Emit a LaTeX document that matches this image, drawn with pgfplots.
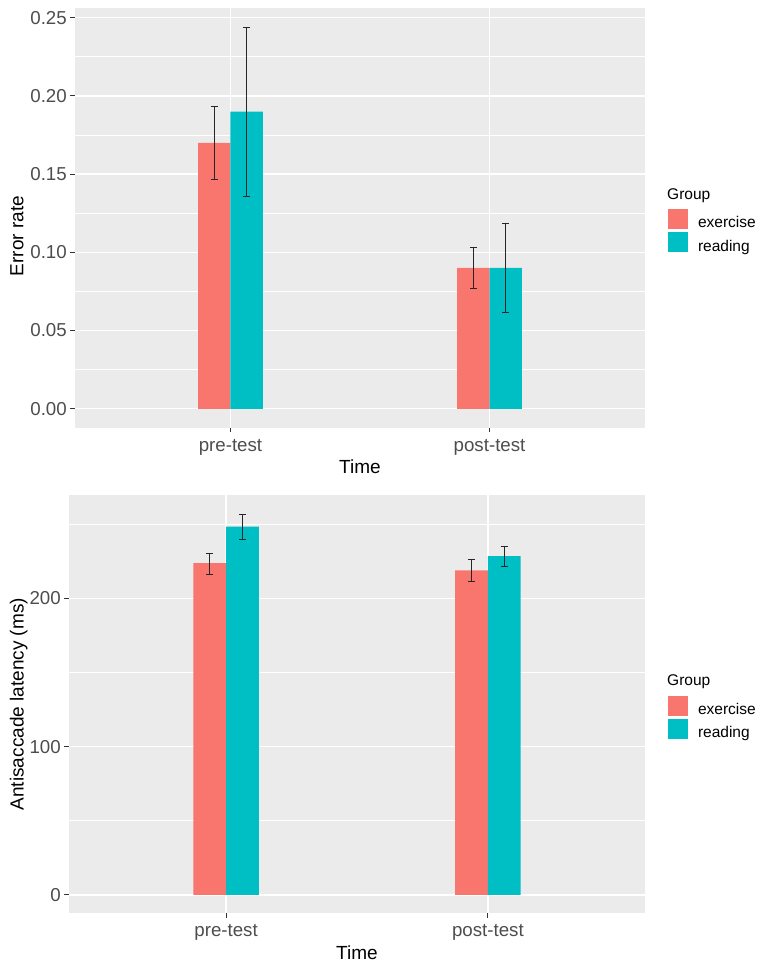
\documentclass[border=0pt]{standalone}
\usepackage{fontspec}
\setmainfont{Liberation Sans}
\usepackage{pgfplots}
\pgfplotsset{compat=1.18}
\definecolor{ggred}{HTML}{F8766D}
\definecolor{ggteal}{HTML}{00BFC4}
\definecolor{ggbg}{HTML}{EBEBEB}
\definecolor{ggtick}{HTML}{4D4D4D}
\definecolor{ggtickmark}{HTML}{333333}
\newcommand{\tickfont}{\fontsize{18.7bp}{22bp}\selectfont}
\newcommand{\titlefont}{\fontsize{19bp}{23bp}\selectfont}
\newcommand{\legfont}{\fontsize{15.5bp}{18bp}\selectfont}
\pgfplotsset{
  ggstyle/.style={
    scale only axis,
    axis background/.style={fill=ggbg},
    axis line style={draw=none},
    xmin=0.4, xmax=2.6,
    xtick={1,2}, xticklabels={pre-test,post-test},
    xmajorgrids, ymajorgrids, yminorgrids,
    major grid style={white, line width=1.4bp},
    minor grid style={white, line width=0.7bp},
    tick align=outside,
    major tick length=4.5bp,
    minor tick length=0pt,
    tick style={ggtickmark, line width=0.9bp},
    tick pos=left,
    xticklabel style={font=\tickfont, text=ggtick, inner sep=0pt, anchor=base, yshift=-19bp},
    yticklabel style={font=\tickfont, text=ggtick, inner sep=0pt, anchor=east, xshift=-3.5bp},
    xlabel style={font=\titlefont, inner sep=0pt, anchor=base},
    ylabel style={font=\titlefont, inner sep=0pt, anchor=base},
    legend style={anchor=north west, draw=none, fill=none, inner sep=0pt, outer sep=0pt,
      row sep=3bp, column sep=10bp, font=\legfont, nodes={inner sep=0pt}},
    legend cell align=left,
  },
  ggbar/.style={ybar, bar width=0.125, bar shift=0, draw=none,
    legend image code/.code={\fill[##1, draw=none] (0bp,-6bp) rectangle (20bp,14bp);}},
  ggerr/.style={draw=none, mark=none, forget plot,
    error bars/y dir=both, error bars/y explicit,
    error bars/error mark=-,
    error bars/error bar style={draw=black!85, line width=1.1bp},
    error bars/error mark options={rotate=90, draw=black!85, line width=1.1bp, mark size=3.5bp}},
}
\begin{document}
\begin{tikzpicture}
\path[use as bounding box] (0,0) rectangle (765bp,968bp);
% ---------------- top panel ----------------
\begin{axis}[ggstyle,
  at={(75bp,540bp)}, anchor=south west, width=570bp, height=420bp,
  ymin=-0.0123, ymax=0.2562,
  ytick={0,0.05,0.10,0.15,0.20,0.25},
  yticklabels={0.00,0.05,0.10,0.15,0.20,0.25},
  minor ytick={0.025,0.075,0.125,0.175,0.225},
  xlabel={Time}, ylabel={Error rate},
  xlabel style={at={(axis description cs:0.5,-0.1079)}},
  ylabel style={at={(axis description cs:-0.0904,0.4571)}},
  legend style={at={(axis description cs:1.0404,0.5214)}},
]
\addplot[ggbar, fill=ggred] coordinates {(0.9375,0.170) (1.9375,0.090)};
\addlegendentry{exercise}
\addplot[ggbar, fill=ggteal] coordinates {(1.0625,0.190) (2.0625,0.090)};
\addlegendentry{reading}
\addplot[ggerr] coordinates {
  (0.9375,0.170) += (0,0.0230) -= (0,0.0234)
  (1.9375,0.090) += (0,0.0132) -= (0,0.0133)
};
\addplot[ggerr] coordinates {
  (1.0625,0.190) += (0,0.0536) -= (0,0.0545)
  (2.0625,0.090) += (0,0.0284) -= (0,0.0287)
};
\end{axis}
\node[anchor=base west, font=\legfont, inner sep=0pt] at (667bp,768bp) {Group};
% ---------------- bottom panel ----------------
\begin{axis}[ggstyle,
  at={(69bp,54.7bp)}, anchor=south west, width=576bp, height=418.3bp,
  ymin=-12.4, ymax=269.6,
  ytick={0,100,200},
  yticklabels={0,100,200},
  minor ytick={50,150,250},
  xlabel={Time}, ylabel={Antisaccade latency (ms)},
  xlabel style={at={(axis description cs:0.5,-0.1116)}},
  ylabel style={at={(axis description cs:-0.0788,0.5)}},
  legend style={at={(axis description cs:1.040,0.5202)}},
]
\addplot[ggbar, fill=ggred] coordinates {(0.9375,223.7) (1.9375,218.7)};
\addlegendentry{exercise}
\addplot[ggbar, fill=ggteal] coordinates {(1.0625,248.3) (2.0625,228.4)};
\addlegendentry{reading}
\addplot[ggerr] coordinates {
  (0.9375,223.7) += (0,6.2) -= (0,7.5)
  (1.9375,218.7) += (0,7.7) -= (0,7.6)
};
\addplot[ggerr] coordinates {
  (1.0625,248.3) += (0,8.4) -= (0,8.5)
  (2.0625,228.4) += (0,6.5) -= (0,7.2)
};
\end{axis}
\node[anchor=base west, font=\legfont, inner sep=0pt] at (667bp,282bp) {Group};
\end{tikzpicture}
\end{document}
